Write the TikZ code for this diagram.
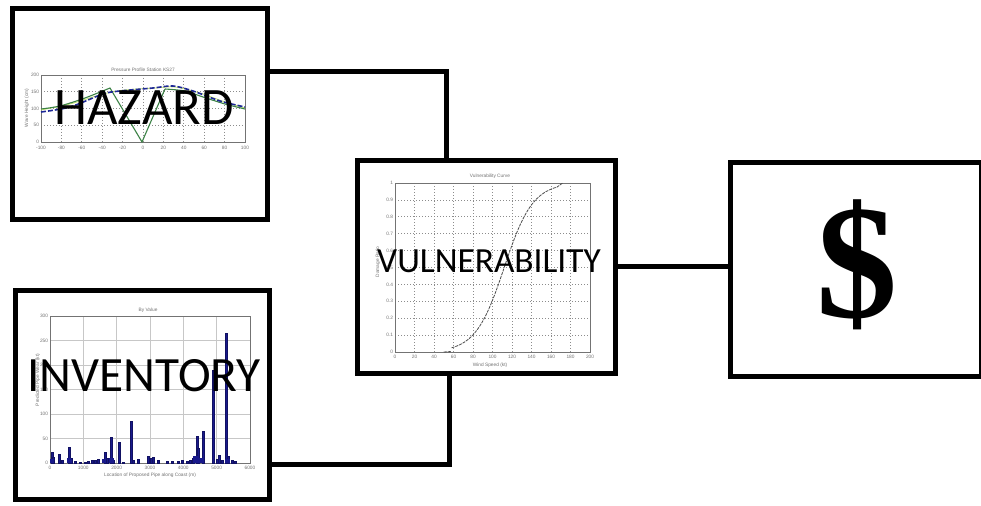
\documentclass[tikz,border=0pt]{standalone}
\usepackage{fontspec}
\setmainfont{Carlito}
\newfontfamily\dollarfont{Liberation Serif}
\newfontfamily\tickfont{Liberation Sans}
\newlength\px
\setlength\px{0.75pt}
\definecolor{navy}{RGB}{25,25,140}
\definecolor{hgreen}{RGB}{60,130,70}
\definecolor{hblue}{RGB}{30,40,150}
\tikzset{
  boxnode/.style={draw=black, line width=5\px, fill=white, inner sep=0pt},
  conn/.style={draw=black, line width=5\px},
  gridl/.style={draw=black!22, line width=0.5\px},
  gridd/.style={draw=black!45, line width=0.7\px, dash pattern=on 1\px off 2\px},
  axisl/.style={draw=black!55, line width=0.8\px},
  tick/.style={font=\tickfont\fontsize{3.6}{4}\selectfont, text=black!55, inner sep=0.5pt},
  bigl/.style={font=\fontsize{37}{40}\selectfont, inner sep=0pt},
  bar/.style={fill=navy, draw=navy!70!black, line width=0.3\px},
}
\begin{document}
\begin{tikzpicture}[x=0.75pt, y=-0.75pt]
\useasboundingbox (0,0) rectangle (981,506);
\fill[white] (0,0) rectangle (981,506);

% ---------- boxes ----------
\node[boxnode, minimum width=255\px, minimum height=211\px] (haz) at (140,114) {};
\node[boxnode, minimum width=254\px, minimum height=209.5\px] (inv) at (142.5,394.75) {};
\node[boxnode, minimum width=258\px, minimum height=212\px] (vul) at (486.5,267) {};
\node[boxnode, minimum width=251.5\px, minimum height=213.5\px] (dol) at (855.75,269.25) {};

% ---------- connectors ----------
\coordinate (h1) at (446,72);
\coordinate (i1) at (449,464);
\coordinate (d1) at (670,266);
\draw[conn] (haz.east |- h1) -| (h1 |- vul.north);
\draw[conn] (inv.east |- i1) -| (i1 |- vul.south);
\draw[conn] (vul.east |- d1) -- (dol.west |- d1);

% ---------- hazard chart ----------
\foreach \i in {0,...,10} \draw[gridd] ({41+20.4*\i},75) -- ({41+20.4*\i},142);
\foreach \j in {1,...,3} \draw[gridd] (41,{75+16.75*\j}) -- (245,{75+16.75*\j});
\draw[axisl] (41,75) rectangle (245,142);
\foreach \v [count=\i from 0] in {-100,-80,-60,-40,-20,0,20,40,60,80,100}
  \node[tick] (hx\i) at ({41+20.4*\i},147.5) {\v};
\foreach \v [count=\j from 0] in {200,150,100,50,0}
  \node[tick, anchor=east] (hy\j) at (40,{75+16.75*\j}) {\v};
\node[tick] (htitle) at (143,70) {Pressure Profile  Station  KS27};
\node[tick, rotate=90] (hylab) at (27,108) {Wave Height (cm)};
\draw[yellow!60!green!60, line width=0.8\px] plot[smooth] coordinates {(41,110) (70,104) (103,94) (125,90) (155,88) (175,87) (200,93) (225,102) (245,108)};
\draw[hgreen, line width=1.1\px] plot[smooth, tension=0.5] coordinates {(41,109) (60,106) (85,98) (110,88)} -- (142,142) -- (165,89) plot[smooth, tension=0.5] coordinates {(165,89) (185,91) (203,97) (225,104) (245,109)};
\draw[hblue, line width=1.6\px, dash pattern=on 5\px off 2\px] plot[smooth] coordinates {(41,112) (70,107) (103,94) (120,91) (153,88) (173,86) (193,91) (220,101) (245,107)};

% ---------- inventory chart ----------
\foreach \i in {1,...,5} \draw[gridl] ({50+33.33*\i},316) -- ({50+33.33*\i},463);
\foreach \j in {1,...,5} \draw[gridl] (50,{316+24.5*\j}) -- (250,{316+24.5*\j});
\draw[axisl] (50,316) rectangle (250,463);
\foreach \v [count=\i from 0] in {0,1000,2000,3000,4000,5000,6000}
  \node[tick] (ix\i) at ({50+33.33*\i},467.5) {\v};
\foreach \v [count=\j from 0] in {300,250,200,150,100,50,0}
  \node[tick, anchor=east] (iy\j) at (49,{316+24.5*\j}) {\v};
\node[tick] (ititle) at (148,310) {By Value};
\node[tick] (ixlab) at (150,475) {Location of Proposed Pipe along Coast (m)};
\node[tick, rotate=90] (iylab) at (38,380) {Predicted Pipe Wear (kt)};
\foreach \x/\y in {51.7/451.7, 53.3/456.7, 59.3/454.3, 61.7/460, 69.3/447.3, 70.7/458.3, 75/461, 80/461.7, 85/461.7, 88.3/461, 91.7/460, 95/460, 98.3/459, 105/452.3, 106.7/458.3, 110.7/437.3, 113.3/460, 119/442.3, 123.3/461.7, 131/420.7, 133.3/460, 138.3/459, 148.3/456, 150.7/458.3, 153.3/456.7, 158.3/460, 166.7/461, 171.7/461, 178.3/460.7, 181.7/460, 186.7/461, 190/460, 193.3/458.3, 197/436, 198.3/448.3, 203.3/431, 212.7/370, 216.7/459, 219.3/455, 221.7/460, 226/333, 228.3/455.7, 231.7/460, 235/460.7}
  \draw[bar] ({\x-1},463) rectangle ({\x+1},\y);
\foreach \x/\w/\y in {52/4/459, 69/4/458, 104/4/459, 111/5/458, 196/6/456, 200/5/458, 227/5/459}
  \fill[navy] ({\x-\w/2},463) rectangle ({\x+\w/2},\y);

% ---------- vulnerability chart ----------
\foreach \i in {1,...,9} \draw[gridd] ({395+19.5*\i},183) -- ({395+19.5*\i},352);
\foreach \j in {1,...,9} \draw[gridd] (395,{183+16.9*\j}) -- (590,{183+16.9*\j});
\draw[axisl] (395,183) rectangle (590,352);
\foreach \v [count=\i from 0] in {0,20,40,60,80,100,120,140,160,180,200}
  \node[tick] (vx\i) at ({395+19.5*\i},357) {\v};
\foreach \v [count=\j from 0] in {1,0.9,0.8,0.7,0.6,0.5,0.4,0.3,0.2,0.1,0}
  \node[tick, anchor=east] (vy\j) at (394,{183+16.9*\j}) {\v};
\node[tick] (vtitle) at (490,176) {Vulnerability Curve};
\node[tick] (vxlab) at (490,365) {Wind Speed (kt)};
\node[tick, rotate=90] (vylab) at (378,262) {Damage Ratio};
\draw[black!70, line width=0.8\px, dash pattern=on 3\px off 1\px] (395+0.975*50,352) -- (395+0.975*58,351.5)
  plot[domain=58:166, samples=60] ({395+0.975*\x}, {352-169/(1+exp(-1.702*(\x-112)/25))})
  -- (395+0.975*172,183);

% ---------- labels ----------
\node[font=\fontsize{39.5}{42}\selectfont, inner sep=0pt] (hazt) at (144,108) {HAZARD};
\node[bigl] (invt) at (144,376) {INVENTORY};
\node[font=\fontsize{26.5}{28}\selectfont, inner sep=0pt] (vult) at (489,261) {VULNERABILITY};
\node[font=\dollarfont\bfseries\fontsize{122}{130}\selectfont, inner sep=0pt] (dolt) at (857,265) {\$};
\end{tikzpicture}
\end{document}
